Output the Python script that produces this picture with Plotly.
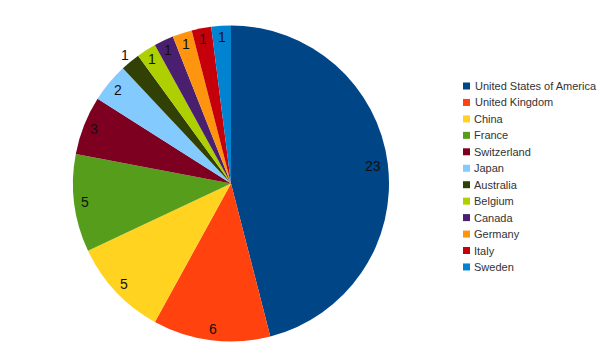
import math
import plotly.graph_objects as go

countries = ["United States of America", "United Kingdom", "China", "France",
             "Switzerland", "Japan", "Australia", "Belgium", "Canada",
             "Germany", "Italy", "Sweden"]
counts = [23, 6, 5, 5, 3, 2, 1, 1, 1, 1, 1, 1]
colors = ["#004586", "#ff420e", "#ffd320", "#579d1c", "#7e0021", "#83caff",
          "#314004", "#aecf00", "#4b1f6f", "#ff950e", "#c5000b", "#0084d1"]

W, H = 605, 352
CX, CY, R = 231.0, 183.5, 158.0
LABEL_R = 147.0
label_r_override = {"Australia": 167.0, "United States of America": 143.0}

fig = go.Figure()
fig.add_trace(go.Pie(
    labels=countries, values=counts, sort=False, direction="clockwise",
    rotation=0, textinfo="none", showlegend=False,
    marker=dict(colors=colors, line=dict(width=0)),
    domain=dict(x=[(CX - R) / W, (CX + R) / W],
                y=[(H - CY - R) / H, (H - CY + R) / H]),
))

annotations = []
total = sum(counts)
cum = 0
for name, v in zip(countries, counts):
    mid = (cum + v / 2) / total * 2 * math.pi
    cum += v
    r = label_r_override.get(name, LABEL_R)
    px = CX + r * math.sin(mid)
    py = CY - r * math.cos(mid)
    annotations.append(dict(
        x=px / W, y=(H - py) / H, xref="paper", yref="paper",
        text=str(v), showarrow=False, xanchor="center", yanchor="middle",
        font=dict(family="Liberation Sans", size=14, color="#111111")))

# legend
shapes = []
LEG_X, LEG_Y0, LEG_DY, SQ = 466.5, 86.0, 16.45, 7.0
for i, (name, c) in enumerate(zip(countries, colors)):
    y = LEG_Y0 + i * LEG_DY
    shapes.append(dict(type="rect", xref="paper", yref="paper",
                       x0=(LEG_X - SQ / 2) / W, x1=(LEG_X + SQ / 2) / W,
                       y0=(H - y - SQ / 2) / H, y1=(H - y + SQ / 2) / H,
                       fillcolor=c, line=dict(width=0)))
    annotations.append(dict(
        x=(LEG_X + 6.0) / W, y=(H - y) / H, xref="paper", yref="paper",
        text=name, showarrow=False, xanchor="left", yanchor="middle",
        font=dict(family="Liberation Sans", size=11, color="#333333")))

fig.update_layout(
    width=W, height=H, margin=dict(l=0, r=0, t=0, b=0),
    paper_bgcolor="white", plot_bgcolor="white",
    annotations=annotations, shapes=shapes, showlegend=False,
)
fig.write_html("out.html")
